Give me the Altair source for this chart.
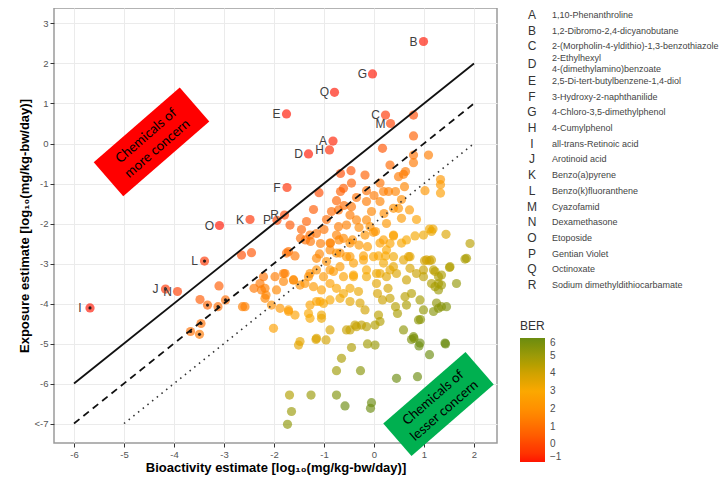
import altair as alt
import pandas as pd

# ---- labelled chemicals ----
letters = list("ABCDEFGHIJKLMNOPQR")
names = [
    "1,10-Phenanthroline",
    "1,2-Dibromo-2,4-dicyanobutane",
    "2-(Morpholin-4-yldithio)-1,3-benzothiazole",
    "2-Ethylhexyl\n\u00a0\u00a0\u00a0\u00a04-(dimethylamino)benzoate",
    "2,5-Di-tert-butylbenzene-1,4-diol",
    "3-Hydroxy-2-naphthanilide",
    "4-Chloro-3,5-dimethylphenol",
    "4-Cumylphenol",
    "all-trans-Retinoic acid",
    "Arotinoid acid",
    "Benzo(a)pyrene",
    "Benzo(k)fluoranthene",
    "Cyazofamid",
    "Dexamethasone",
    "Etoposide",
    "Gentian Violet",
    "Octinoxate",
    "Sodium dimethyldithiocarbamate",
]
lab_bio = [-0.82, 0.99, 0.23, -1.31, -1.75, -1.74, -0.03, -0.89, -5.68, -4.17,
           -2.48, -3.39, 0.33, -3.93, -3.09, -1.94, -0.79, -1.79]
lab_exp = [0.06, 2.55, 0.71, -0.26, 0.74, -1.10, 1.74, -0.16, -4.11, -3.64,
           -1.90, -2.94, 0.50, -3.70, -2.05, -1.92, 1.28, -1.79]

# ---- other chemicals (bioactivity, exposure) ----
bio = [0.79, 1.09, 0.79, 0.17, 0.79, 0.79, 0.32, 0.63, 0.49, 0.59, -0.46, -0.67, -0.18,
       1.33, 1.33, 1.33, -0.45, 0.12, 0.61, 1.02, 0.19, 0.29, 0.43, -0.61, -0.67, -0.15,
       -1.10, 0.12, -0.75, -0.85, -0.71, -0.45, -0.15, -1.21, 0.39, 0.49, 0.71, 0.55,
       -0.48, -0.35, -0.15, -0.08, 0.03, -1.68, -0.71, -0.55, 1.11, 1.18, 1.44, 1.92,
       1.82, 1.51, 1.01, 1.11, -1.47, -1.37, -1.27, -1.07, -0.87, -0.70, -0.43, -0.30,
       -0.13, 0.19, 0.32, 0.39, 0.65, 0.82, -1.71, -1.58, -1.09, -0.88, -0.68, -0.48,
       -0.21, 0.09, 0.23, 0.39, 0.69, -2.21, -1.98, -1.78, -1.31, -1.15, -0.88, -0.68,
       -0.41, -0.15, 0.12, 0.32, 0.72, 0.99, 1.19, 1.29,
       -2.28, -2.18, -1.81, -1.61, -1.48, -2.18, -1.88, -1.71, -1.58, -2.01, -1.38,
       -1.21, -1.05, -1.28, -1.08, -0.88, -0.68, -1.31, -1.05, -0.88, -0.75, -0.61,
       -0.48, -0.31, -0.48, -0.28, -0.18, 0.05, 0.07, 0.17, 0.28, 0.32, 0.43, 0.47,
       0.09, 0.12, 0.62, 0.75, 0.65, 0.92, 0.99, 1.15, 1.22, 1.29, 1.35, 1.25, 1.35,
       1.45, 1.19, 1.65, 0.89, 0.59, 0.79, -0.15, 0.02, -0.48, -0.35, -0.88, -1.15,
       -1.48, 0.92, 1.42,
       -2.65, -2.45, -3.10, -3.48, -3.33, -3.12, -2.97, -2.63, -3.46, -3.67, -3.49, -2.40,
       -1.51, -1.16, -0.96, -0.55, -0.38, -0.25, -0.13, 0.02, -0.45, -0.65, -0.75,
       -0.27, 0.45, 0.87, 1.11, 1.43, 0.90, 0.75, 0.80, -1.69, -1.26, -0.75, -1.65,
       -1.73, -0.58, -0.05, -0.07, 1.29, 0.93, -2.58, -2.05, -1.71, -1.15, -1.01,
       -1.28, -1.05, -2.25, -2.16, -1.95,
       -1.28, -1.15, -0.88, -0.75, -0.61, -0.48, -0.18, -0.01, 0.12, 0.25, 0.39, 0.55,
       0.99, 1.15,
       -1.75, -1.15, -0.95, -0.75, -0.55, -0.41, -0.21, -0.01, 0.19, 0.39, 0.59, 0.72,
       1.05, 1.15, 1.52, 1.85,
       -1.81, -1.61, -1.28, -1.01, -0.81, -0.61, -0.41, -0.15, 0.05, 0.25, 0.45, 0.65,
       0.85, 0.99, 1.22, 1.29, 1.35,
       -0.95, -1.00, -0.30, 0.20, 0.25, -0.05, -0.60, 0.00, -0.35, 0.55, 0.85, -1.35,
       -1.45]
exp = [0.71, -0.29, 0.19, -0.12, -0.29, -0.48, -0.54, -0.70, -0.83, -0.77, -0.68, -0.75, -0.79,
       -0.90, -1.03, -1.24, -0.99, -0.99, -1.08, -1.18, -1.20, -1.20, -1.20, -1.12, -1.20, -1.18,
       -1.23, -1.45, -1.43, -1.70, -1.66, -1.58, -1.45, -1.65, -1.62, -1.62, -1.66, -1.87,
       -1.79, -1.91, -1.91, -2.08, -2.20, -2.04, -2.08, -2.04, -2.14, -2.14, -2.27, -2.50,
       -2.89, -3.10, -2.93, -2.93, -2.37, -2.41, -2.45, -2.50, -2.49, -2.41, -2.41, -2.54,
       -2.58, -2.41, -2.50, -2.31, -2.41, -2.31, -2.70, -2.81, -2.76, -2.66, -2.74, -2.83,
       -2.81, -2.81, -2.81, -2.83, -2.83, -3.33, -3.33, -3.25, -3.33, -3.16, -3.16, -3.08,
       -3.33, -3.16, -3.25, -3.16, -3.12, -3.16, -3.16, -3.33,
       -3.50, -3.62, -3.45, -3.41, -3.54, -3.87, -4.12, -4.20, -4.29, -4.62, -3.50,
       -3.58, -3.66, -4.04, -3.95, -3.91, -3.87, -4.25, -4.29, -3.50, -3.62, -3.75,
       -3.62, -3.70, -3.95, -3.99, -4.16, -3.50, -3.75, -3.91, -3.62, -3.87, -4.08, -4.25,
       -4.29, -4.45, -3.83, -3.75, -4.04, -3.91, -4.16, -3.50, -3.58, -3.66, -3.54, -3.99, -4.08,
       -4.08, -4.20, -3.50, -4.41, -4.66, -4.83, -4.58, -4.54, -4.66, -4.58, -4.66, -4.87,
       -4.95, -4.99, -4.99,
       -2.79, -2.73, -3.56, -3.90, -4.04, -4.08, -3.91, -4.08, -4.50, -4.70, -4.77, -3.62,
       -5.04, -4.90, -4.91, -4.66, -4.54, -4.54, -5.01, -5.04, -5.10, -5.37, -5.68,
       -5.68, -5.87, -5.83, -5.28, -5.01, -5.06, -4.90, -4.87, -6.29, -6.29, -6.29, -6.70,
       -7.02, -6.56, -6.48, -6.62, -4.12, -4.40, -4.08, -4.04, -4.16, -3.95, -4.00,
       -4.37, -4.37, -3.66, -3.79, -3.66,
       -2.29, -2.25, -2.49, -2.29, -2.37, -2.49, -2.29, -2.22, -2.49, -2.66, -2.29, -2.49,
       -2.29, -2.20,
       -2.74, -2.87, -2.95, -2.74, -2.83, -2.99, -2.91, -2.83, -2.99, -3.08, -2.91, -2.83,
       -2.91, -2.91, -3.08, -2.87,
       -3.25, -3.41, -3.25, -3.33, -3.20, -3.33, -3.29, -3.33, -3.25, -3.33, -3.25, -3.41,
       -3.25, -3.33, -3.20, -3.50, -3.29,
       -1.90, -2.15, -2.10, -1.75, -2.00, -1.70, -1.55, -1.30, -1.35, -1.40, -1.90, -1.95,
       -2.15]

# chemicals drawn with a dark centre
dark_bio = [-5.68, -4.17, -3.39, -3.33, -3.12, -2.97, -3.46, -3.67, -3.49]
dark_exp = [-4.11, -3.64, -2.94, -4.04, -4.08, -3.91, -4.50, -4.70, -4.77]

# reference lines (BER = 0, 1, 2)
solid_x, solid_y = [-6, 2], [-6, 2]
dash_x, dash_y = [-6, 2], [-7, 1]
dot_x, dot_y = [-5, 2], [-7, 0]

ber_ticks = [-1, 0, 1, 2, 3, 4, 5, 6]
ber_colors = ["#ff1400", "#ff4600", "#ff6e00", "#ff9000", "#fba800", "#d0a200", "#9c9a08", "#6b8c10"]

x_title = "Bioactivity estimate [log\u2081\u2080(mg/kg-bw/day)]"
y_title = "Exposure estimate [log\u2081\u2080(mg/kg-bw/day)]"

pts_df = pd.DataFrame({
    "bio": bio + lab_bio,
    "exp": exp + lab_exp,
    "label": [""] * len(bio) + letters,
})

xs = alt.Scale(domain=[-6.4, 2.46], nice=False, zero=False)
ys = alt.Scale(domain=[-7.4875, 3.3875], nice=False, zero=False)

base = alt.Chart(pts_df).transform_calculate(BER="datum.bio - datum.exp")

points = base.mark_circle(size=85, fillOpacity=0.65).encode(
    x=alt.X("bio:Q", scale=xs, title=x_title,
            axis=alt.Axis(values=list(range(-6, 3)), labelExpr="toString(datum.value)")),
    y=alt.Y("exp:Q", scale=ys, title=y_title,
            axis=alt.Axis(values=list(range(-7, 4)),
                          labelExpr="datum.value == -7 ? '<-7' : toString(datum.value)")),
    color=alt.Color("BER:Q",
                    scale=alt.Scale(domain=ber_ticks, range=ber_colors, clamp=True),
                    legend=alt.Legend(orient="none", legendX=466, legendY=313,
                                      direction="vertical", title="BER",
                                      gradientLength=124, gradientThickness=25,
                                      gradientStrokeWidth=0, values=ber_ticks,
                                      titleFontSize=12, titleFontWeight="normal",
                                      titleColor="#333333", titleFont="Liberation Sans",
                                      labelFontSize=10, labelColor="#4d4d4d",
                                      labelFont="Liberation Sans", titlePadding=5,
                                      labelOffset=5)),
)

dark = alt.Chart(pd.DataFrame({"bio": dark_bio, "exp": dark_exp})).mark_circle(
    size=10, color="#111111", opacity=0.9).encode(x="bio:Q", y="exp:Q")

labels = base.transform_filter("datum.label != ''").mark_text(
    dx=-10, fontSize=12, color="#404040", font="Liberation Sans", baseline="middle"
).encode(x="bio:Q", y="exp:Q", text="label:N")

solid = alt.Chart(pd.DataFrame({"bio": solid_x, "exp": solid_y})).mark_line(
    color="#111111", strokeWidth=1.8).encode(x="bio:Q", y="exp:Q")
dashed = alt.Chart(pd.DataFrame({"bio": dash_x, "exp": dash_y})).mark_line(
    color="#111111", strokeWidth=1.8, strokeDash=[7, 5]).encode(x="bio:Q", y="exp:Q")
dotted = alt.Chart(pd.DataFrame({"bio": dot_x, "exp": dot_y})).mark_line(
    color="#333333", strokeWidth=1.6, strokeDash=[1.5, 4.5]).encode(x="bio:Q", y="exp:Q")

BOX = "M-1,-0.395L1,-0.395L1,0.395L-1,0.395Z"
one = pd.DataFrame({"k": [0]})
red_box = alt.Chart(one).mark_point(shape=BOX, size=12996, angle=319, filled=True,
                                    fill="#ff0000", opacity=1, strokeWidth=0).encode(
    x=alt.datum(-4.45), y=alt.datum(0.04))
red_txt = alt.Chart(one).mark_text(text=["Chemicals of", "more concern"], angle=319,
                                   font="Lato", fontSize=13.5, lineHeight=17,
                                   color="#000000", align="center", baseline="middle",
                                   dy=-8).encode(
    x=alt.datum(-4.45), y=alt.datum(0.04))
green_box = alt.Chart(one).mark_point(shape=BOX, size=11881, angle=319, filled=True,
                                      fill="#00b050", opacity=1, strokeWidth=0).encode(
    x=alt.datum(1.29), y=alt.datum(-6.51))
green_txt = alt.Chart(one).mark_text(text=["Chemicals of", "lesser concern"], angle=319,
                                     font="Lato", fontSize=13.5, lineHeight=17,
                                     color="#000000", align="center", baseline="middle",
                                     dy=-8).encode(
    x=alt.datum(1.29), y=alt.datum(-6.51))

main = alt.layer(points, dark, solid, dashed, dotted, labels,
                 red_box, red_txt, green_box, green_txt)

list_df = pd.DataFrame({"idx": list(range(len(letters))), "letter": letters, "name": names})
# the two-line entry (D) takes a little extra room in the list
row_expr = "datum.idx + (datum.idx >= 4 ? 0.2 : (datum.idx == 3 ? 0.1 : 0))"
list_scale = alt.Scale(domain=[0, 17.2], range=[7, 277])
list_letters = alt.Chart(list_df).transform_calculate(row=row_expr).mark_text(
    fontSize=12, color="#333333", font="Liberation Sans", align="center", baseline="middle"
).encode(x=alt.value(478), y=alt.Y("row:Q", scale=list_scale, axis=None), text="letter:N")
list_names = alt.Chart(list_df).transform_calculate(row=row_expr).transform_calculate(
    row2="indexof(datum.name, '\\n') >= 0 ? datum.row - 0.33 : datum.row"
).mark_text(
    fontSize=9, color="#444444", font="Liberation Sans", align="left", baseline="middle",
    lineBreak="\n", lineHeight=10.5
).encode(x=alt.value(498), y=alt.Y("row2:Q", scale=list_scale, axis=None), text="name:N")

chart = alt.layer(main, list_letters, list_names).resolve_scale(y="independent").properties(
    width=443, height=435,
    autosize=alt.AutoSizeParams(type="none"),
    padding={"left": 46, "top": 0, "right": 223, "bottom": 36},
).configure_view(
    stroke="#9a9a9a", strokeWidth=1.5
).configure_axis(
    grid=True, gridColor="#ebebeb", gridWidth=1, domain=False,
    tickSize=4, tickColor="#333333", tickWidth=1,
    labelFont="Liberation Sans", labelFontSize=9.5, labelColor="#555555", labelPadding=2,
    titleFont="Liberation Sans", titleFontSize=13, titleFontWeight="bold", titleColor="#000000",
    titlePadding=3,
)

chart.save("out.html", embed_options={"renderer": "svg", "actions": False})
